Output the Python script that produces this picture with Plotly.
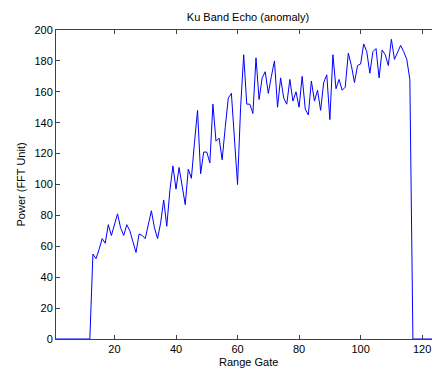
import plotly.graph_objects as go

range_gate = list(range(1, 129))
power = (
    [0] * 12 +
    [55, 52, 58, 65, 62, 74, 67, 75, 81, 72,   # 13-22
     67, 74, 70, 63, 56, 68, 67, 65, 74, 83,   # 23-32
     72, 65, 75, 90, 73, 96, 112, 97, 111, 98, # 33-42
     87, 110, 104, 127, 148, 107, 121, 121, 114, 152,  # 43-52
     128, 130, 116, 137, 156, 159, 132, 100, 150, 184, # 53-62
     152, 152, 146, 182, 155, 169, 173, 159, 170, 180, # 63-72
     150, 169, 156, 152, 168, 154, 160, 150, 170, 149, # 73-82
     145, 167, 154, 161, 148, 166, 171, 142, 184, 162, # 83-92
     168, 161, 163, 185, 177, 166, 177, 178, 191, 186, # 93-102
     172, 186, 188, 169, 187, 184, 177, 194, 181, 186, # 103-112
     190, 186, 181, 168] +                      # 113-116
    [0] * 12
)

x_ticks = [20, 40, 60, 80, 100, 120]
y_ticks = [0, 20, 40, 60, 80, 100, 120, 140, 160, 180, 200]

fig = go.Figure()
fig.add_trace(go.Scatter(x=range_gate, y=power, mode="lines",
                         line=dict(color="#0000ff", width=1), hoverinfo="skip"))

font = dict(family="Arial, Liberation Sans, sans-serif", size=11, color="#000000")
axcol = "#404040"
# page has an 8px body margin, so the figure is sized/offset to compensate
W, H = 432, 362
L, R, T, B = 48, 0, 22, 31
fig.update_layout(
    width=W, height=H,
    margin=dict(l=L, r=R, t=T, b=B, autoexpand=False),
    paper_bgcolor="white", plot_bgcolor="white",
    showlegend=False, font=font,
    title=dict(text="Ku Band Echo (anomaly)", x=(L + W) / 2 / W, xanchor="center",
               y=1 - 9 / H, yanchor="middle", font=font),
    xaxis=dict(range=[1, 125.8], tickvals=x_ticks, ticks="inside", ticklen=4,
               tickcolor=axcol, showline=True, linecolor=axcol, linewidth=1,
               mirror="ticks", showgrid=False, zeroline=False, automargin=False),
    yaxis=dict(range=[0, 200], tickvals=y_ticks, ticks="inside", ticklen=4,
               tickcolor=axcol, showline=True, linecolor=axcol, linewidth=1,
               mirror=False, showgrid=False, zeroline=False, automargin=False),
    annotations=[
        dict(text="Range Gate", xref="paper", yref="paper", x=0.5,
             y=-(354 - (H - B)) / (H - T - B), xanchor="center", yanchor="middle",
             showarrow=False, font=font),
        dict(text="Power (FFT Unit)", xref="paper", yref="paper",
             x=-(L - 12) / (W - L - R), y=0.5, xanchor="center", yanchor="middle",
             textangle=-90, showarrow=False, font=font),
    ],
)

fig.write_html("out.html")
